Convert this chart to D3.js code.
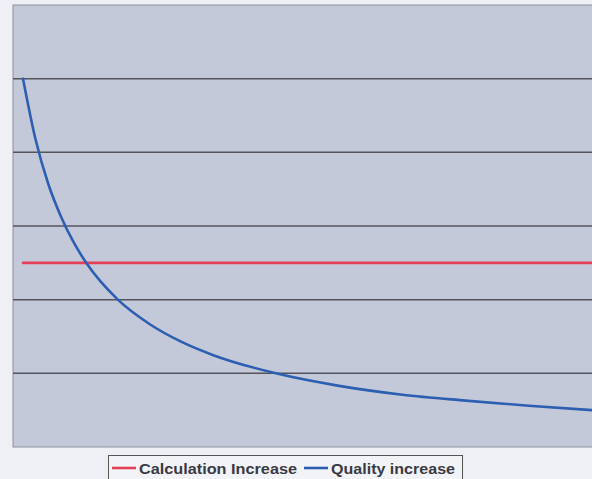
<!DOCTYPE html>
<html>
<head>
<meta charset="utf-8">
<script src="https://cdn.jsdelivr.net/npm/d3@7/dist/d3.min.js"></script>
<style>
  html, body { margin: 0; padding: 0; background: #eef0f6; }
  svg { display: block; }
</style>
</head>
<body>
<svg id="chart" width="592" height="479"></svg>
<script>
// Effort index (x) and the two series plotted against it
const xValues = [1, 1.2, 1.4, 1.6, 1.8, 2, 2.5, 3, 3.5, 4, 5, 6, 7, 8, 9, 10];
const calculationIncrease = [25, 25, 25, 25, 25, 25, 25, 25, 25, 25, 25, 25, 25, 25, 25, 25];
const qualityIncrease = [50, 41.7, 35.7, 31.3, 27.8, 25, 20, 16.7, 14.3, 12.5, 10, 8.3, 7.1, 6.3, 5.6, 5];
const yTicks = [0, 10, 20, 30, 40, 50, 60];
const seriesNames = ["Calculation Increase", "Quality increase"];
const seriesColors = ["#e5405a", "#2c5fb2"];

const svg = d3.select("#chart");
const plot = { left: 13, top: 5, right: 600, bottom: 447 };

const x = d3.scaleLinear().domain([1, 10]).range([23, 592]);
const y = d3.scaleLinear().domain([0, 60]).range([plot.bottom, plot.top]);

// Plot background
svg.append("rect")
  .attr("x", plot.left).attr("y", plot.top)
  .attr("width", plot.right - plot.left).attr("height", plot.bottom - plot.top)
  .attr("fill", "#c4c9d9")
  .attr("stroke", "#8d909c").attr("stroke-width", 1);

// Horizontal gridlines
svg.append("g")
  .selectAll("line")
  .data(yTicks.filter(t => t > 0 && t < 60))
  .join("line")
  .attr("x1", plot.left).attr("x2", plot.right)
  .attr("y1", d => y(d)).attr("y2", d => y(d))
  .attr("stroke", "#55535c").attr("stroke-width", 1.5);

const pts = s => xValues.map((v, i) => [v, s[i]]);
const line = d3.line().x(d => x(d[0])).y(d => y(d[1])).curve(d3.curveMonotoneX);

[calculationIncrease, qualityIncrease].forEach((s, i) => {
  svg.append("path")
    .attr("d", line(pts(s)))
    .attr("fill", "none")
    .attr("stroke", seriesColors[i])
    .attr("stroke-width", 2.6)
    .attr("stroke-linecap", "round");
});

// Legend
const legend = svg.append("g");
legend.append("rect")
  .attr("x", 108.5).attr("y", 455.5).attr("width", 354).attr("height", 30)
  .attr("fill", "#f2f3f7").attr("stroke", "#555").attr("stroke-width", 1);

const items = [
  { x0: 112, x1: 136, tx: 139, w: 158 },
  { x0: 304, x1: 328, tx: 331, w: 124 }
];
items.forEach((it, i) => {
  legend.append("line")
    .attr("x1", it.x0).attr("x2", it.x1).attr("y1", 468).attr("y2", 468)
    .attr("stroke", seriesColors[i]).attr("stroke-width", 2.6);
  legend.append("text")
    .attr("x", it.tx).attr("y", 474)
    .attr("font-family", "Liberation Sans, Arial, sans-serif")
    .attr("font-weight", "bold").attr("font-size", 15)
    .attr("textLength", it.w).attr("lengthAdjust", "spacingAndGlyphs")
    .attr("fill", "#3a3a44")
    .text(seriesNames[i]);
});
</script>
</body>
</html>
